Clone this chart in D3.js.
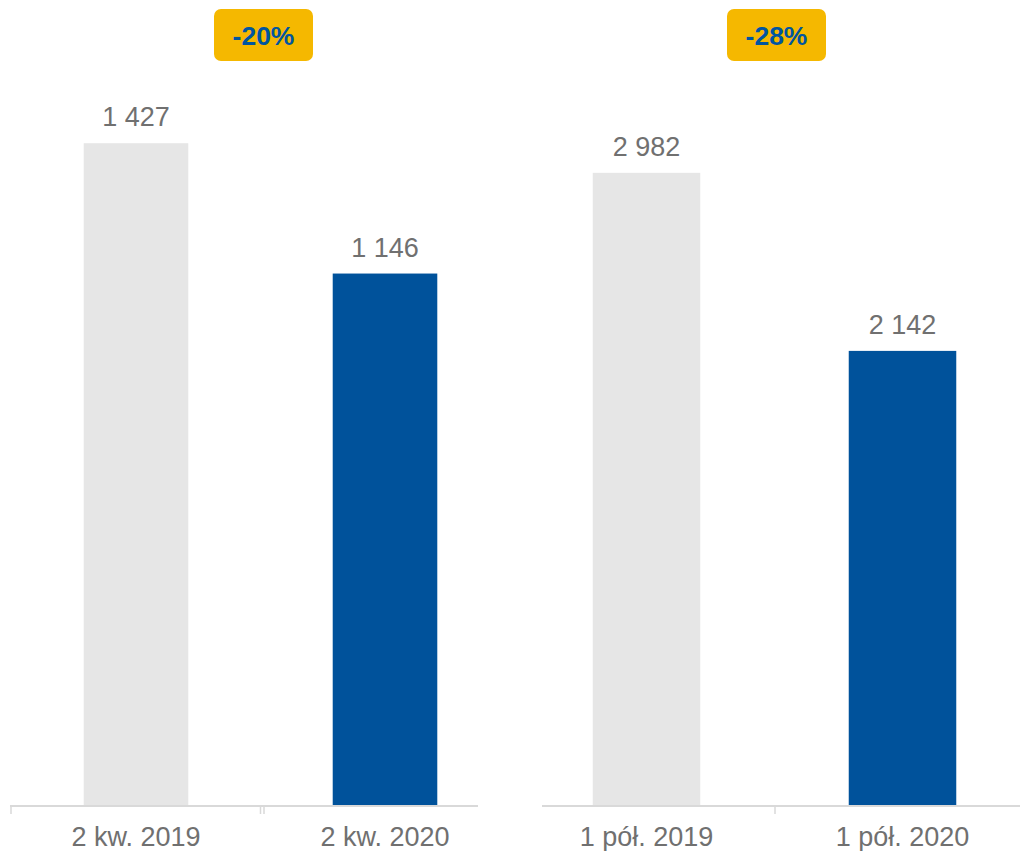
<!DOCTYPE html>
<html lang="pl">
<head>
<meta charset="utf-8">
<title>Wykres</title>
<script src="https://cdn.jsdelivr.net/npm/d3@7"></script>
<style>
  body { margin: 0; background: #fff; }
  svg { display: block; font-family: "Liberation Sans", Arial, sans-serif; }
  .val { fill: #707070; font-size: 27px; text-anchor: middle; }
  .cat { fill: #707070; font-size: 27px; text-anchor: middle; }
  .badge text { fill: #0055a0; font-size: 26.5px; font-weight: bold; text-anchor: middle; }
</style>
</head>
<body>
<div id="chart"></div>
<script>
var catsQ = ["2 kw. 2019", "2 kw. 2020"];
var valsQ = [1427, 1146];
var catsH = ["1 pół. 2019", "1 pół. 2020"];
var valsH = [2982, 2142];
var changes = ["-20%", "-28%"];
var colors = ["#e6e6e6", "#00529b"];

var width = 1020, height = 851;
var baseY = 805, topY = 63;

var svg = d3.select("#chart").append("svg")
    .attr("width", width)
    .attr("height", height);

var fmt = function(v) { return d3.format(",")(v).replace(/,/g, " "); };

function panel(cats, vals, x0, x1, axisL, axisR, yMax, barPad) {
  var x = d3.scaleBand().domain(cats).range([x0, x1]).paddingInner(barPad).paddingOuter(barPad / 2);
  var y = d3.scaleLinear().domain([0, yMax]).range([baseY, topY]);
  var g = svg.append("g");

  g.selectAll("rect.bar").data(vals).enter().append("rect")
    .attr("class", "bar")
    .attr("x", function(d, i) { return x(cats[i]); })
    .attr("width", x.bandwidth())
    .attr("y", function(d) { return y(d); })
    .attr("height", function(d) { return baseY - y(d); })
    .attr("fill", function(d, i) { return colors[i]; });

  g.selectAll("text.val").data(vals).enter().append("text")
    .attr("class", "val")
    .attr("x", function(d, i) { return x(cats[i]) + x.bandwidth() / 2; })
    .attr("y", function(d) { return y(d) - 17; })
    .text(fmt);

  // axis line
  g.append("line")
    .attr("x1", axisL).attr("x2", axisR)
    .attr("y1", baseY + 1).attr("y2", baseY + 1)
    .attr("stroke", "#d9d9d9").attr("stroke-width", 2);

  g.selectAll("text.cat").data(cats).enter().append("text")
    .attr("class", "cat")
    .attr("x", function(d) { return x(d) + x.bandwidth() / 2; })
    .attr("y", 846)
    .text(function(d) { return d; });

  return { g: g, x: x };
}

var left = panel(catsQ, valsQ, 11.5, 509.5, 10, 478, 1600, 0.58);
var right = panel(catsH, valsH, 518.5, 1030.5, 542, 1020, 3500, 0.58);

// ticks
function tick(g, xp) {
  g.append("line").attr("x1", xp).attr("x2", xp)
    .attr("y1", baseY + 1).attr("y2", baseY + 9)
    .attr("stroke", "#d9d9d9").attr("stroke-width", 1.5);
}
tick(left.g, 11);
tick(left.g, 260.5);
tick(left.g, 264);
tick(right.g, 775);

// badges
[[changes[0], 263.5], [changes[1], 776.5]].forEach(function(b) {
  var bg = svg.append("g").attr("class", "badge");
  bg.append("rect")
    .attr("x", b[1] - 49.5).attr("y", 9)
    .attr("width", 99).attr("height", 52)
    .attr("rx", 7)
    .attr("fill", "#f5b800");
  bg.append("text").attr("x", b[1]).attr("y", 45).text(b[0]);
});
</script>
</body>
</html>
